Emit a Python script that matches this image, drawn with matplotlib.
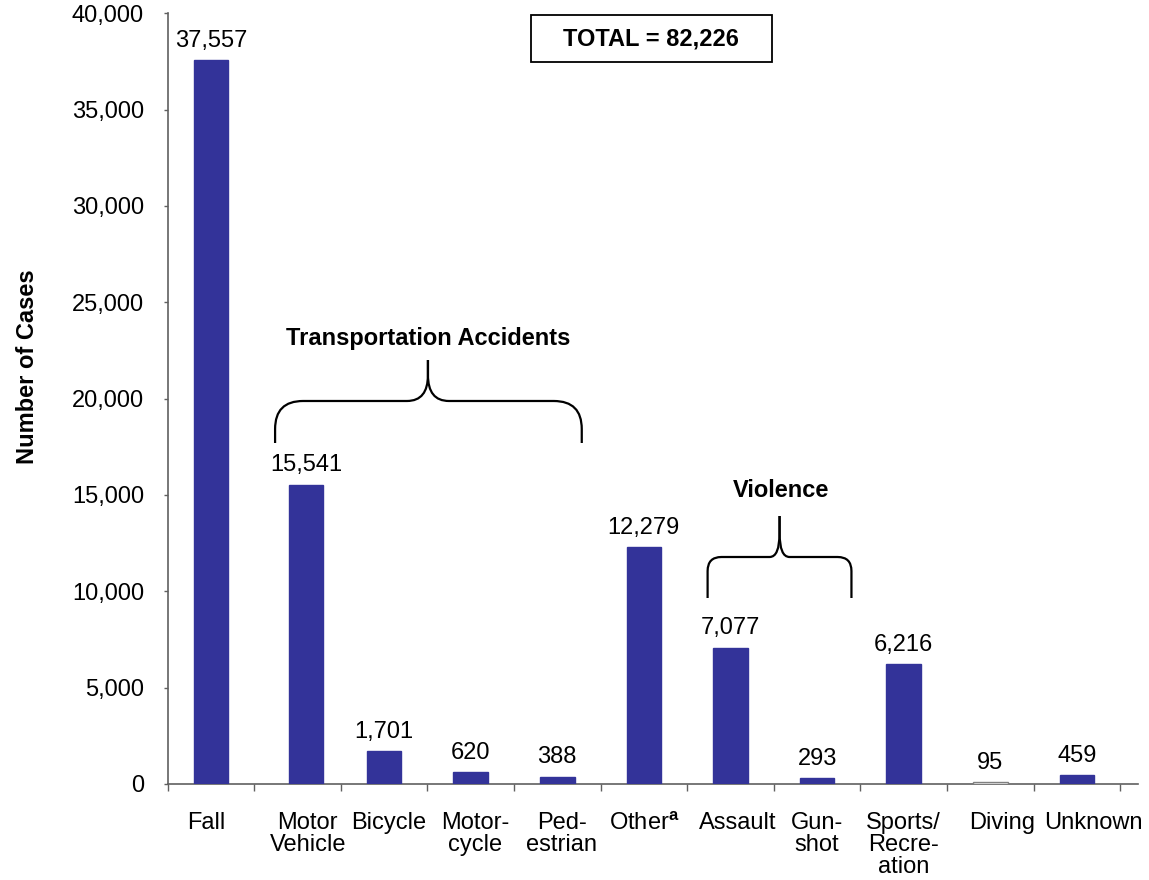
import matplotlib
matplotlib.use("Agg")
import matplotlib.pyplot as plt
import numpy as np
from matplotlib.path import Path
from matplotlib.patches import PathPatch, Rectangle

plt.rcParams['font.family'] = ['Liberation Sans', 'DejaVu Sans']
plt.rcParams['mathtext.fontset'] = 'custom'
plt.rcParams['mathtext.rm'] = 'Liberation Sans'
plt.rcParams['mathtext.bf'] = 'Liberation Sans:bold'

categories = ["Fall", "Motor\nVehicle", "Bicycle", "Motor-\ncycle", "Ped-\nestrian",
              r"Other$^{\mathbf{a}}$", "Assault", "Gun-\nshot", "Sports/\nRecre-\nation",
              "Diving", "Unknown"]
values = [37557, 15541, 1701, 620, 388, 12279, 7077, 293, 6216, 95, 459]
value_labels = ["37,557", "15,541", "1,701", "620", "388", "12,279", "7,077", "293",
                "6,216", "95", "459"]
y_ticks = [0, 5000, 10000, 15000, 20000, 25000, 30000, 35000, 40000]
y_tick_labels = ["0", "5,000", "10,000", "15,000", "20,000", "25,000", "30,000",
                 "35,000", "40,000"]
total_text = "TOTAL = 82,226"

BAR = "#333399"
FS = 17

fig = plt.figure(figsize=(11.49, 8.80), dpi=100)
ax = fig.add_axes([0.1458, 0.1091, 0.8442, 0.8758])

x = np.arange(len(values), dtype=float)
bar_x = x.copy()
bar_x[1] += 0.1
label_x = x + np.array([-0.05, 0.12, 0.05, 0.05, 0.05, 0.0, 0.08, 0.0, 0.0, 0.14, 0.19])
colors = [BAR] * len(values)
edges = [BAR] * len(values)
colors[9] = "white"
edges[9] = "#808080"
ax.bar(bar_x, values, width=0.40, color=colors, edgecolor=edges, linewidth=1.0, zorder=3)

for xi, v, lab in zip(bar_x, values, value_labels):
    ax.annotate(lab, (xi, v), xytext=(0, 6), textcoords="offset points",
                ha="center", va="bottom", fontsize=FS)

ax.set_xlim(-0.5, 10.7)
ax.set_ylim(0, 40000)
ax.set_yticks(y_ticks)
ax.set_yticklabels(y_tick_labels, fontsize=FS)
ax.set_xticks(np.arange(-0.5, len(values), 1.0))
ax.set_xticklabels([])
ax.set_xticks(label_x, minor=True)
ax.set_xticklabels(categories, minor=True, fontsize=FS, linespacing=1.0)
ax.tick_params(axis="x", which="major", direction="out", length=5, width=1, color="#606060")
ax.tick_params(axis="x", which="minor", length=0, pad=20.5)
ax.tick_params(axis="y", direction="out", length=3, width=1, color="#606060", pad=14)

for s in ["top", "right"]:
    ax.spines[s].set_visible(False)
for s in ["left", "bottom"]:
    ax.spines[s].set_color("#606060")
    ax.spines[s].set_linewidth(1.2)

ax.text(-0.1445, 0.541, "Number of Cases", rotation=90, ha="center", va="center",
        fontsize=FS, fontweight="bold", transform=ax.transAxes)

# Total box
ax.add_patch(Rectangle((0.3745, 0.937), 0.2485, 0.061, transform=ax.transAxes,
                       fill=False, edgecolor="black", linewidth=1.3, clip_on=False))
ax.text(0.498, 0.967, total_text, ha="center", va="center", fontsize=FS,
        fontweight="bold", transform=ax.transAxes)


def brace(x0, x1, xm, y_line, y_end, y_tip, rx, ry, irx, iry):
    for a, b in [(x0, xm), (x1, xm)]:
        sgn = 1 if b > a else -1
        verts = [(a, y_end), (a, y_line - ry), (a, y_line), (a + sgn * rx, y_line),
                 (b - sgn * irx, y_line), (b, y_line), (b, y_line + iry), (b, y_tip)]
        codes = [Path.MOVETO, Path.LINETO, Path.CURVE3, Path.CURVE3,
                 Path.LINETO, Path.CURVE3, Path.CURVE3, Path.LINETO]
        ax.add_patch(PathPatch(Path(verts, codes), fill=False, edgecolor="black",
                               linewidth=1.6, capstyle="butt"))


brace(0.742, 4.283, 2.507, 19878, 17698, 22005, 0.323, 1453, 0.242, 1350)
ax.text(2.507, 23147, "Transportation Accidents", ha="center", va="center",
        fontsize=FS, fontweight="bold")
brace(5.736, 7.397, 6.567, 11781, 9653, 13909, 0.16, 730, 0.115, 1245)
ax.text(6.587, 15258, "Violence", ha="center", va="center", fontsize=FS, fontweight="bold")

fig.savefig("out.png", dpi=100)
